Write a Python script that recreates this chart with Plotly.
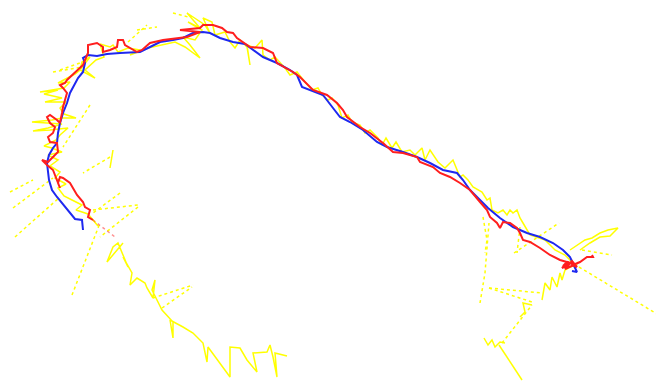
import plotly.graph_objects as go

# Ground-truth track (blue)
blue_x = [83,82,75,70,63,57,52,49,47,49,53,57,58,60,63,67,70,74,78,83,85,83,88,97,107,120,140,150,160,173,183,193,203,210,220,233,245,263,277,290,297,302,310,323,333,340,350,363,377,387,403,417,430,443,457,463,470,480,488,500,513,527,540,553,563,570,573,577,572]
blue_y = [230,220,219,213,205,197,190,180,163,155,148,143,133,123,113,103,93,85,78,72,63,58,55,56,54,53,52,47,42,40,38,33,32,33,38,42,44,57,63,70,75,87,90,95,108,117,122,130,142,147,152,157,163,170,173,180,190,200,208,218,227,233,237,243,250,257,263,272,271]

# Estimated track (red)
red_x = [93,88,90,85,83,77,70,63,60,58,60,57,53,47,42,48,53,58,57,50,48,53,55,50,47,50,57,60,62,63,65,67,63,60,65,67,83,88,88,97,103,103,110,117,118,123,125,130,137,142,150,163,177,187,200,180,200,203,213,222,227,233,237,250,263,273,277,293,300,313,327,337,343,347,360,370,383,393,403,417,420,433,440,450,460,470,480,487,490,497,500,503,510,517,520,523,530,540,550,560,567,563,570,562,568,574,565,572,577,573,580,587,593,592]
red_y = [220,217,210,207,202,195,183,178,177,183,188,180,170,165,160,162,157,152,143,142,137,133,127,123,117,115,120,123,113,107,100,93,88,85,83,80,65,53,45,43,47,52,50,47,40,40,45,48,52,50,43,40,38,37,32,30,28,25,25,28,32,33,38,47,48,53,63,72,77,90,95,103,110,117,127,133,143,152,153,157,162,167,173,177,183,190,202,210,217,223,228,222,223,228,233,240,242,248,255,260,262,266,264,268,262,265,269,261,267,265,262,257,257,255,253]

# Faded tail of the estimate
red_tail_x = [93,115]
red_tail_y = [220,237]

# Noisy measurements (yellow), solid runs separated by None
yel_x = [98,88,76,82,72,64,58,66,55,60,50,58,48,62,52,44,56,60,68,50,33,48,62,45,32,52,62,76,64,60,66,45,62,44,58,40,64,70,58,75,80,82,90,80,95,85,96,104,100,110,113,118,128,140,130,148,160,175,185,200,190,183,195,202,188,200,187,205,210,203,212,215,225,230,235,240,247,250,247,255,262,263,270,275,280,285,290,297,305,312,318,322,328,332,338,342,348,352,360,365,370,378,382,386,392,396,402,410,415,422,425,430,438,445,453,457,460,463,468,473,482,487,490,492,498,503,507,510,513,517,520,523,530,545,555,565,570,575,578,
         None,
         123,107,113,118,128,123,132,130,137,145,147,153,155,152,162,173,173,170,183,193,203,207,208,230,230,240,247,257,253,267,270,273,277,275,287,
         None,
         542,545,550,552,557,560,562,565,570,575,
         None,
         570,578,585,592,600,608,618,610,600,590,580,
         None,
         484,488,492,495,500,505,
         None,
         499,522,
         None,
         113,110,
         None,
         520,525,523,532]
yel_y = [226,214,210,205,200,196,188,184,178,172,166,160,155,152,148,146,140,135,128,130,131,128,124,123,122,120,118,118,114,108,102,102,98,94,90,92,88,82,83,74,70,62,57,70,78,70,60,57,44,47,45,52,48,50,55,48,45,42,47,58,45,37,40,30,22,28,13,25,33,18,22,35,32,42,48,40,47,65,45,48,40,55,60,57,62,68,75,72,82,90,88,95,100,98,105,118,115,122,125,133,130,138,145,138,148,142,152,150,155,148,160,150,162,168,160,170,177,175,180,187,192,200,198,210,213,210,215,210,213,210,218,223,235,240,250,255,260,268,262,
         None,
         243,262,247,243,267,257,273,285,278,283,288,298,280,290,310,322,338,320,327,333,343,362,347,377,347,348,360,372,353,352,345,357,377,353,356,
         None,
         300,283,290,277,287,273,280,270,267,265,
         None,
         250,245,240,238,233,230,228,236,237,243,250,
         None,
         338,345,340,347,342,343,
         None,
         345,380,
         None,
         150,168,
         None,
         317,312,303,305]

# Large measurement jumps (dotted yellow), pairs separated by None
jump_x = [10,33,None,13,53,None,15,60,None,90,63,None,110,83,None,120,93,None,138,100,None,72,100,None,93,138,None,153,193,None,162,192,
          None,53,82,None,128,147,None,173,188,None,137,157,None,60,80,
          None,480,485,489,None,489,542,None,489,532,None,514,559,None,502,532,None,579,662,None,582,612,None,483,487,485,None,520,517]
jump_y = [192,180,None,208,178,None,237,197,None,105,147,None,157,173,None,193,213,None,207,237,None,295,223,None,210,205,None,298,285,None,308,287,
          None,72,67,None,42,25,None,13,17,None,30,27,None,70,63,
          None,303,273,223,None,288,293,None,288,302,None,253,223,None,343,305,None,267,317,None,250,255,None,217,240,253,None,227,253]

fig = go.Figure()
fig.add_trace(go.Scatter(x=jump_x, y=jump_y, mode="lines",
                         line=dict(color="rgb(255,255,0)", width=1.5, dash="dot"), hoverinfo="skip"))
fig.add_trace(go.Scatter(x=yel_x, y=yel_y, mode="lines",
                         line=dict(color="rgb(255,255,0)", width=1.5), hoverinfo="skip"))
fig.add_trace(go.Scatter(x=blue_x, y=blue_y, mode="lines",
                         line=dict(color="rgb(30,40,240)", width=2)))
fig.add_trace(go.Scatter(x=red_tail_x, y=red_tail_y, mode="lines", opacity=0.5,
                         line=dict(color="rgb(255,40,40)", width=1.5, dash="dot")))
fig.add_trace(go.Scatter(x=red_x, y=red_y, mode="lines",
                         line=dict(color="rgb(255,30,30)", width=2)))

# the page body adds an 8 px margin, so the axis window is shifted by that much
fig.update_layout(
    width=664, height=381,
    margin=dict(l=0, r=0, t=0, b=0),
    paper_bgcolor="white", plot_bgcolor="white",
    showlegend=False,
    xaxis=dict(range=[8, 672], visible=False, fixedrange=True),
    yaxis=dict(range=[389, 8], visible=False, fixedrange=True),
)
fig.write_html("out.html", config={"displayModeBar": False})
